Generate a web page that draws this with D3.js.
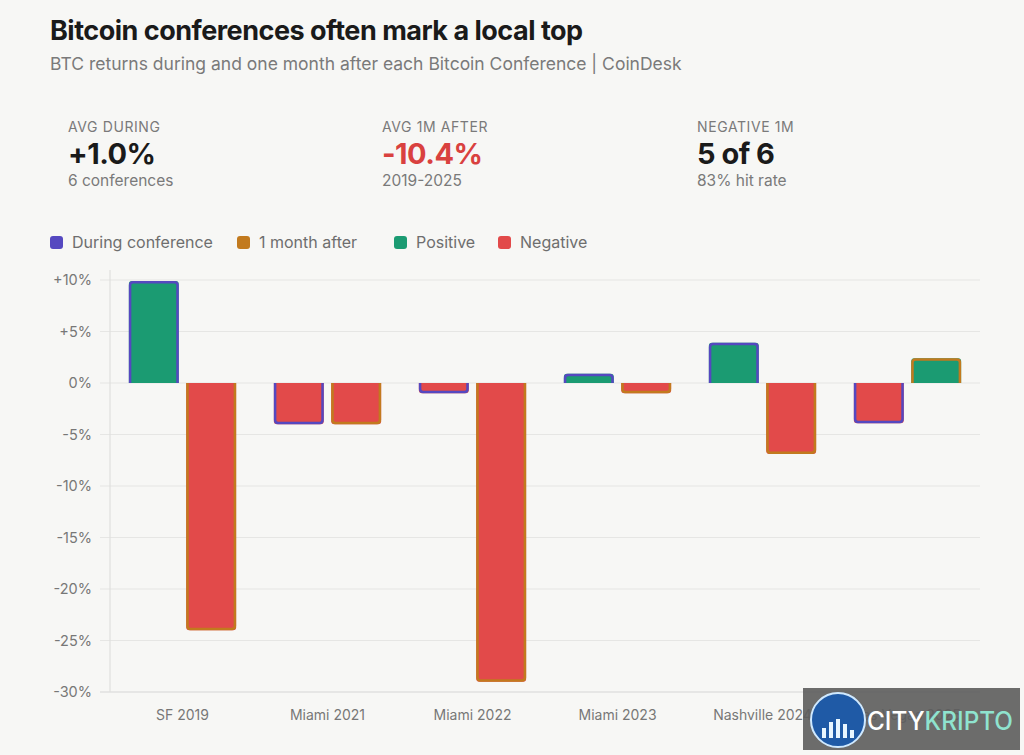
<!DOCTYPE html>
<html>
<head>
<meta charset="utf-8">
<script src="https://cdn.jsdelivr.net/npm/d3@7"></script>
<style>
  html, body { margin: 0; padding: 0; background: #f7f7f5; }
  body { width: 1024px; height: 755px; overflow: hidden; font-family: "Inter", "Roboto", sans-serif; }
</style>
</head>
<body>
<svg id="chart"></svg>
<script>
  // values
  const conferences = ["SF 2019", "Miami 2021", "Miami 2022", "Miami 2023", "Nashville 2024", "Las Vegas 2025"];
  const duringVals = [9.9, -4.0, -1.0, 0.9, 3.9, -3.9];
  const afterVals = [-24.0, -4.0, -29.0, -1.0, -6.9, 2.4];
  const yTicks = [10, 5, 0, -5, -10, -15, -20, -25, -30];

  const statLabels = ["AVG DURING", "AVG 1M AFTER", "NEGATIVE 1M"];
  const statValues = ["+1.0%", "-10.4%", "5 of 6"];
  const statNotes = ["6 conferences", "2019-2025", "83% hit rate"];

  const legendItems = [
    { label: "During conference", color: "#5548c0" },
    { label: "1 month after", color: "#c27a1e" },
    { label: "Positive", color: "#1b9b72" },
    { label: "Negative", color: "#e24a4a" },
  ];

  const color = {
    during: "#5548c0",
    after: "#c27a1e",
    pos: "#1b9b72",
    neg: "#e24a4a",
  };

  const size = { width: 1024, height: 755 };
  const margin = { top: 280, bottom: 63, left: 110, right: 44 };

  const svg = d3.select("#chart").attr("width", size.width).attr("height", size.height);

  // title block
  svg.append("text")
    .text("Bitcoin conferences often mark a local top")
    .attr("x", 50).attr("y", 40)
    .attr("fill", "#1a1a1a")
    .style("font-size", "27px").style("font-weight", 700)
    .style("letter-spacing", "-0.5px");

  svg.append("text")
    .text("BTC returns during and one month after each Bitcoin Conference | CoinDesk")
    .attr("x", 50).attr("y", 70)
    .attr("fill", "#7a7a7a")
    .style("font-size", "17.5px");

  // stats row
  const statX = [68, 382, 697];
  statLabels.forEach((lab, i) => {
    const g = svg.append("g").attr("transform", `translate(${statX[i]}, 0)`);
    g.append("text").text(lab)
      .attr("y", 132).attr("fill", "#7a7a7a")
      .style("font-size", "14px").style("letter-spacing", "0.6px");
    g.append("text").text(statValues[i])
      .attr("y", 164).attr("fill", i === 1 ? "#d9413f" : "#1a1a1a")
      .style("font-size", "29px").style("font-weight", 700)
      .style("letter-spacing", "-0.5px");
    g.append("text").text(statNotes[i])
      .attr("y", 186).attr("fill", "#7a7a7a")
      .style("font-size", "15.5px");
  });

  // legend
  const legendX = [50, 237, 394, 498];
  legendItems.forEach((d, i) => {
    svg.append("rect")
      .attr("x", legendX[i]).attr("y", 236)
      .attr("width", 13).attr("height", 13).attr("rx", 3)
      .attr("fill", d.color);
    svg.append("text").text(d.label)
      .attr("x", legendX[i] + 22).attr("y", 248)
      .attr("fill", "#6e6e6e")
      .style("font-size", "16px");
  });

  const x0 = d3.scaleBand()
    .domain(conferences)
    .range([margin.left, size.width - margin.right])
    .paddingInner(0.26)
    .paddingOuter(0.13);

  const x1 = d3.scaleBand()
    .domain(["during", "after"])
    .range([0, x0.bandwidth()])
    .paddingInner(0.13);

  const y = d3.scaleLinear()
    .domain([-30, 10])
    .range([size.height - margin.bottom, margin.top]);

  // grid
  const grid = svg.append("g");
  yTicks.forEach((v) => {
    grid.append("line")
      .attr("x1", margin.left - 10).attr("x2", size.width - margin.right)
      .attr("y1", y(v)).attr("y2", y(v))
      .attr("stroke", v === -30 ? "#d6d6d6" : "#e6e6e4")
      .attr("stroke-width", 1.2);
  });
  grid.append("line")
    .attr("x1", margin.left).attr("x2", margin.left)
    .attr("y1", y(10) - 10).attr("y2", y(-30))
    .attr("stroke", "#e0e0de").attr("stroke-width", 1.2);

  // y axis labels
  svg.append("g")
    .attr("transform", `translate(${margin.left - 15}, 0)`)
    .call(d3.axisLeft(y).tickValues(yTicks).tickSize(0)
      .tickFormat((d) => (d > 0 ? "+" : "") + d + "%"))
    .call((g) => g.select(".domain").remove())
    .selectAll("text")
    .attr("fill", "#777")
    .style("font-family", "Inter, Roboto, sans-serif")
    .style("font-size", "14.5px");

  // x axis labels
  svg.append("g")
    .attr("transform", `translate(0, ${y(-30) + 15})`)
    .call(d3.axisBottom(x0).tickSize(0))
    .call((g) => g.select(".domain").remove())
    .selectAll("text")
    .attr("fill", "#777")
    .style("font-family", "Inter, Roboto, sans-serif")
    .style("font-size", "14px");

  // bar with rounded far end, border skipped at the base
  const r = 3;
  const barPath = (xl, w, v, closed) => {
    const y0 = y(0), y1 = y(v);
    const s = v >= 0 ? 1 : -1;
    const rr = Math.min(r, Math.abs(y1 - y0) / 2);
    let p = `M${xl},${y0} L${xl},${y1 + s * rr} Q${xl},${y1} ${xl + rr},${y1}`
      + ` L${xl + w - rr},${y1} Q${xl + w},${y1} ${xl + w},${y1 + s * rr} L${xl + w},${y0}`;
    return closed ? p + " Z" : p;
  };

  const rows = conferences.map((c, i) => [
    { conf: c, key: "during", value: duringVals[i] },
    { conf: c, key: "after", value: afterVals[i] },
  ]);

  const groups = svg.append("g").selectAll("g")
    .data(rows)
    .join("g")
    .attr("transform", (d) => `translate(${x0(d[0].conf)}, 0)`);

  groups.selectAll("path.fill")
    .data((d) => d)
    .join("path")
    .attr("class", "fill")
    .attr("d", (d) => barPath(x1(d.key), x1.bandwidth(), d.value, true))
    .attr("fill", (d) => (d.value >= 0 ? color.pos : color.neg));

  groups.selectAll("path.border")
    .data((d) => d)
    .join("path")
    .attr("class", "border")
    .attr("d", (d) => barPath(x1(d.key) + 1.25, x1.bandwidth() - 2.5, d.value - Math.sign(d.value) * 0.12, false))
    .attr("fill", "none")
    .attr("stroke", (d) => color[d.key])
    .attr("stroke-width", 2.5);

  // watermark overlay
  const wm = svg.append("g").attr("transform", "translate(803, 688)");
  wm.append("rect").attr("width", 217).attr("height", 62).attr("fill", "#5c5c5c").attr("fill-opacity", 0.9);
  wm.append("circle").attr("cx", 35).attr("cy", 32).attr("r", 27)
    .attr("fill", "#1f5aa6").attr("stroke", "#cfe9ff").attr("stroke-width", 2);
  [[-14, 10], [-7, 16], [0, 19], [7, 14], [14, 8]].forEach(([dx, h]) => {
    wm.append("rect").attr("x", 35 + dx - 2).attr("y", 50 - h).attr("width", 4).attr("height", h)
      .attr("fill", "#e8f6ff");
  });
  wm.append("text").attr("x", 64).attr("y", 42)
    .attr("textLength", 146).attr("lengthAdjust", "spacingAndGlyphs")
    .style("font-size", "25px").style("font-weight", 500)
    .html('<tspan fill="#ffffff">CITY</tspan><tspan fill="#8fe3cf">KRIPTO</tspan>');
</script>
</body>
</html>
